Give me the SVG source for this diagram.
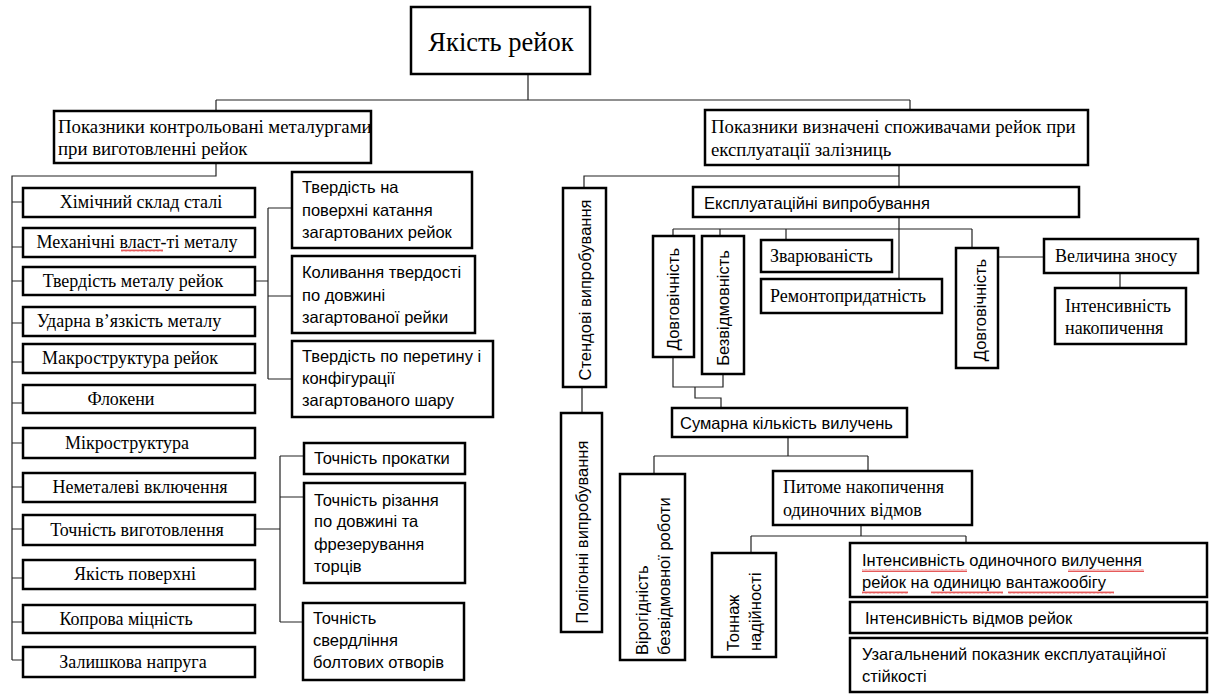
<svg xmlns="http://www.w3.org/2000/svg" width="1211" height="694" viewBox="0 0 1211 694">
<defs>
<style>
.box{fill:#fff;stroke:#000;stroke-width:2.5}
.ln{fill:none;stroke:#222;stroke-width:1.2}
.serif{font-family:"Liberation Serif","Times New Roman",serif;font-size:18px;fill:#000}
.big{font-size:18.8px}
.sans{font-family:"Liberation Sans",Arial,sans-serif;font-size:16.5px;fill:#000}
.mid{text-anchor:middle}
.wavy{fill:url(#wv)}
</style>
<pattern id="wv" patternUnits="userSpaceOnUse" width="4" height="3">
<polyline points="0,2.5 1,0.5 2,2.5 3,0.5 4,2.5" fill="none" stroke="#e03030" stroke-width="0.8"/>
</pattern>
</defs>
<rect width="1211" height="694" fill="#fff"/>

<g id="connectors">
<path class="ln" d="M528,74 V100 M216,100 H910 M216,100 V111 M910,100 V110"/>
<path class="ln" d="M216,163 V176 H12 V660"/>
<path class="ln" d="M12,202 H23 M12,247 H23 M12,281 H23 M12,323 H23 M12,362 H23 M12,403 H23 M12,443 H23 M12,487 H23 M12,529 H23 M12,578 H23 M12,622 H23 M12,660 H23"/>
<path class="ln" d="M255,281 H268 M268,208 V379 M268,208 H292 M268,296 H292 M268,379 H292"/>
<path class="ln" d="M255,529 H280 M280,456 V622 M280,456 H304 M280,497 H304 M280,622 H303"/>
<path class="ln" d="M899,165 V187 M899,176 H584 V188 M582,387 V413"/>
<path class="ln" d="M899,217 V279 M673,229 H972 M673,229 V236 M720,229 V236 M786,229 V240 M972,229 V248"/>
<path class="ln" d="M998,257 H1044 M1120,273 V288"/>
<path class="ln" d="M673,357 V387 H723 V374 M695,387 V398 H721 V408"/>
<path class="ln" d="M788,437 V456 M654,456 H868 M654,456 V474 M868,456 V471"/>
<path class="ln" d="M861,525 V536 M751,536 H966 M751,536 V553 M966,536 V543"/>
</g>

<g id="title">
<rect class="box" x="411" y="7" width="179" height="67"/>
<text class="serif mid" x="501" y="51" style="font-size:26.5px">Якість рейок</text>
</g>

<g id="metallurgists">
<rect class="box" x="54" y="111" width="317" height="52"/>
<text class="serif big" x="58" y="133">Показники контрольовані металургами</text>
<text class="serif big" x="58" y="155">при виготовленні рейок</text>
</g>

<g id="consumers">
<rect class="box" x="705" y="110" width="383" height="55"/>
<text class="serif big" x="711" y="133">Показники визначені споживачами рейок при</text>
<text class="serif big" x="711" y="156">експлуатації залізниць</text>
</g>

<g id="l1"><rect class="box" x="23" y="188" width="232" height="29"/><text class="serif mid" x="141" y="208">Хімічний склад сталі</text></g>
<g id="l2"><rect class="box" x="23" y="228" width="232" height="29"/><text class="serif mid" x="137" y="248">Механічні власт-ті металу</text><rect class="wavy" x="121" y="249" width="42" height="3"/></g>
<g id="l3"><rect class="box" x="23" y="267" width="232" height="28"/><text class="serif mid" x="133" y="287">Твердість металу рейок</text></g>
<g id="l4"><rect class="box" x="23" y="307" width="232" height="29"/><text class="serif mid" x="129" y="327">Ударна в’язкість металу</text></g>
<g id="l5"><rect class="box" x="23" y="344" width="232" height="29"/><text class="serif mid" x="130" y="364">Макроструктура рейок</text></g>
<g id="l6"><rect class="box" x="23" y="385" width="232" height="28"/><text class="serif mid" x="121" y="405">Флокени</text></g>
<g id="l7"><rect class="box" x="23" y="428" width="232" height="30"/><text class="serif mid" x="127" y="449">Мікроструктура</text></g>
<g id="l8"><rect class="box" x="23" y="473" width="232" height="29"/><text class="serif mid" x="140" y="493">Неметалеві включення</text></g>
<g id="l9"><rect class="box" x="23" y="515" width="232" height="30"/><text class="serif mid" x="137" y="536">Точність виготовлення</text></g>
<g id="l10"><rect class="box" x="23" y="560" width="232" height="29"/><text class="serif mid" x="135" y="580">Якість поверхні</text></g>
<g id="l11"><rect class="box" x="23" y="605" width="232" height="28"/><text class="serif mid" x="126" y="625">Копрова міцність</text></g>
<g id="l12"><rect class="box" x="23" y="647" width="232" height="30"/><text class="serif mid" x="133" y="668">Залишкова напруга</text></g>

<g id="hA"><rect class="box" x="292" y="172" width="180" height="76"/>
<text class="sans" x="302" y="193">Твердість на</text><text class="sans" x="302" y="216">поверхні катання</text><text class="sans" x="302" y="238">загартованих рейок</text></g>
<g id="hB"><rect class="box" x="292" y="256" width="183" height="77"/>
<text class="sans" x="302" y="278">Коливання твердості</text><text class="sans" x="302" y="301">по довжині</text><text class="sans" x="302" y="323">загартованої рейки</text></g>
<g id="hC"><rect class="box" x="292" y="341" width="201" height="76"/>
<text class="sans" x="302" y="362">Твердість по перетину і</text><text class="sans" x="302" y="384">конфігурації</text><text class="sans" x="302" y="406">загартованого шару</text></g>

<g id="pD"><rect class="box" x="304" y="443" width="161" height="31"/><text class="sans" x="314" y="464">Точність прокатки</text></g>
<g id="pE"><rect class="box" x="304" y="483" width="161" height="100"/>
<text class="sans" x="314" y="506">Точність різання</text><text class="sans" x="314" y="527">по довжині та</text><text class="sans" x="314" y="550">фрезерування</text><text class="sans" x="314" y="572">торців</text></g>
<g id="pF"><rect class="box" x="303" y="603" width="161" height="77"/>
<text class="sans" x="313" y="624">Точність</text><text class="sans" x="313" y="646">свердління</text><text class="sans" x="313" y="668">болтових отворів</text></g>

<g id="bench"><rect class="box" x="563" y="188" width="43" height="199"/><text class="sans mid" transform="translate(591,290) rotate(-90)">Стендові випробування</text></g>
<g id="polygon"><rect class="box" x="561" y="413" width="41" height="219"/><text class="sans mid" transform="translate(588,532) rotate(-90)">Полігонні випробування</text></g>

<g id="operational"><rect class="box" x="693" y="187" width="386" height="30"/><text class="sans" x="704" y="209">Експлуатаційні випробування</text></g>
<g id="durabilityL"><rect class="box" x="653" y="236" width="41" height="121"/><text class="sans mid" transform="translate(679,299) rotate(-90)">Довговічність</text></g>
<g id="reliability"><rect class="box" x="702" y="236" width="42" height="138"/><text class="sans mid" transform="translate(729,308) rotate(-90)">Безвідмовність</text></g>
<g id="weldability"><rect class="box" x="761" y="240" width="131" height="32"/><text class="serif" x="770" y="262">Зварюваність</text></g>
<g id="repairability"><rect class="box" x="761" y="279" width="181" height="34"/><text class="serif" x="770" y="302">Ремонтопридатність</text></g>
<g id="durabilityR"><rect class="box" x="956" y="248" width="42" height="120"/><text class="sans mid" transform="translate(986,310) rotate(-90)">Довговічність</text></g>
<g id="wear"><rect class="box" x="1044" y="239" width="154" height="34"/><text class="serif" x="1055" y="262">Величина зносу</text></g>
<g id="accumulation"><rect class="box" x="1055" y="288" width="131" height="56"/><text class="serif" x="1065" y="312">Інтенсивність</text><text class="serif" x="1065" y="334">накопичення</text></g>

<g id="total"><rect class="box" x="672" y="408" width="235" height="29"/><text class="sans" x="680" y="429">Сумарна кількість вилучень</text></g>
<g id="probability"><rect class="box" x="620" y="474" width="65" height="186"/>
<text class="sans" transform="translate(648,655) rotate(-90)">Вірогідність</text><text class="sans" transform="translate(670,655) rotate(-90)">безвідмовної роботи</text></g>
<g id="specific"><rect class="box" x="773" y="471" width="199" height="54"/><text class="serif" x="783" y="493">Питоме накопичення</text><text class="serif" x="783" y="516">одиночних відмов</text></g>
<g id="tonnage"><rect class="box" x="712" y="553" width="64" height="104"/>
<text class="sans" transform="translate(739,651) rotate(-90)">Тоннаж</text><text class="sans" transform="translate(761,651) rotate(-90)">надійності</text></g>
<g id="single"><rect class="box" x="850" y="543" width="357" height="54"/>
<text class="sans" x="862" y="566">Інтенсивність одиночного вилучення</text><text class="sans" x="862" y="588">рейок на одиницю вантажообігу</text>
<rect class="wavy" x="862" y="569" width="105" height="3"/><rect class="wavy" x="1068" y="569" width="76" height="3"/>
<rect class="wavy" x="862" y="591" width="46" height="3"/><rect class="wavy" x="931" y="591" width="72" height="3"/><rect class="wavy" x="1008" y="591" width="106" height="3"/></g>
<g id="failures"><rect class="box" x="850" y="602" width="357" height="31"/><text class="sans" x="865" y="624">Інтенсивність відмов рейок</text></g>
<g id="generalized"><rect class="box" x="850" y="638" width="357" height="54"/><text class="sans" x="862" y="660">Узагальнений показник експлуатаційної</text><text class="sans" x="862" y="682">стійкості</text></g>
</svg>
